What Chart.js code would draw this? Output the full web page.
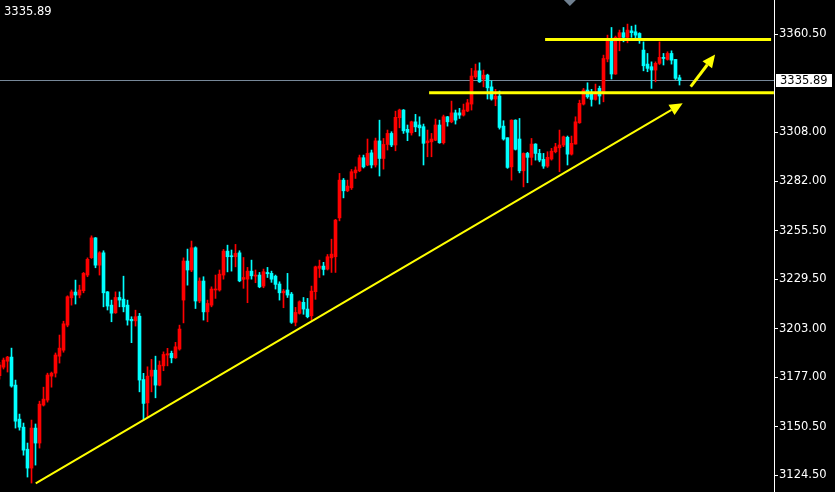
<!DOCTYPE html>
<html>
<head>
<meta charset="utf-8">
<script src="https://cdn.jsdelivr.net/npm/chart.js@4.4.1/dist/chart.umd.min.js"></script>
<style>
  html, body { margin: 0; padding: 0; background: #000; }
  #wrap { position: relative; width: 835px; height: 492px; }
</style>
</head>
<body>
<div id="wrap"><canvas id="chart"></canvas></div>
<script>
// ── Candle data (one entry per bar, oldest first; first bar is cut by the left edge) ──
const opens = [3177.8,
  3182.4, 3185.6, 3187.8, 3172.8, 3154.6, 3150.3, 3138.5, 3128.4, 3149.8, 3141.8,
  3162.1, 3164.8, 3177.6, 3179.2, 3188.3, 3191.5, 3204.9, 3219.5, 3222.6, 3221.0,
  3223.3, 3231.7, 3241.0, 3251.6, 3237.0, 3243.6, 3222.7, 3215.6, 3211.5, 3219.7,
  3218.8, 3215.6, 3208.0, 3207.2, 3209.7, 3175.8, 3163.3, 3177.6, 3180.8, 3172.8,
  3183.1, 3188.9, 3189.8, 3187.4, 3192.1, 3218.3, 3239.2, 3234.4, 3246.3, 3217.8,
  3228.5, 3212.0, 3215.6, 3223.7, 3223.7, 3231.7, 3244.5, 3242.0, 3241.5, 3243.6,
  3229.4, 3229.5, 3233.8, 3231.1, 3231.7, 3225.8, 3233.1, 3232.6, 3231.1, 3226.9,
  3222.2, 3223.7, 3221.5, 3206.4, 3211.2, 3217.1, 3213.5, 3209.9, 3222.8, 3235.3,
  3236.5, 3234.9, 3240.9, 3241.5, 3262.3, 3282.5, 3276.8, 3278.4, 3286.4, 3287.5,
  3294.5, 3290.6, 3297.1, 3290.6, 3303.5, 3294.1, 3301.6, 3307.5, 3301.3, 3315.9,
  3320.0, 3309.7, 3307.8, 3313.7, 3312.0, 3311.1, 3302.5, 3303.0, 3303.9, 3312.0,
  3302.5, 3316.4, 3313.7, 3318.5, 3318.5, 3317.3, 3319.5, 3323.2, 3337.8, 3341.0,
  3336.6, 3338.7, 3332.4, 3325.9, 3327.5, 3311.4, 3305.2, 3289.6, 3314.6, 3304.5,
  3287.5, 3296.8, 3294.7, 3301.8, 3296.8, 3293.6, 3290.0, 3293.8, 3297.7, 3299.8,
  3301.3, 3305.4, 3296.4, 3301.8, 3313.2, 3323.2, 3330.7, 3329.2, 3325.7, 3331.6,
  3328.9, 3347.3, 3357.1, 3339.3, 3358.9, 3361.4, 3358.9, 3362.4, 3361.9, 3361.0,
  3352.1, 3344.6, 3343.2, 3341.4, 3345.0, 3348.2, 3347.1, 3350.3, 3347.1, 3337.3
];
const highs = [3185.0,
  3187.3, 3188.2, 3192.6, 3175.5, 3157.3, 3152.5, 3141.8, 3154.1, 3152.0, 3164.2,
  3171.7, 3179.2, 3179.8, 3190.0, 3199.6, 3207.0, 3220.6, 3223.7, 3229.0, 3226.3,
  3233.1, 3240.9, 3252.7, 3251.8, 3244.2, 3244.7, 3222.9, 3218.3, 3222.7, 3222.7,
  3231.1, 3218.3, 3209.4, 3212.9, 3211.2, 3179.1, 3182.6, 3186.6, 3188.3, 3185.7,
  3190.6, 3192.5, 3191.0, 3195.7, 3204.9, 3240.9, 3245.6, 3249.9, 3246.8, 3230.2,
  3230.8, 3218.3, 3225.4, 3231.7, 3234.4, 3245.4, 3247.7, 3245.1, 3248.1, 3244.7,
  3241.1, 3235.8, 3239.7, 3234.4, 3233.1, 3234.9, 3235.8, 3233.8, 3231.7, 3228.1,
  3224.0, 3232.6, 3222.4, 3214.4, 3217.9, 3219.7, 3219.2, 3225.8, 3236.5, 3239.7,
  3238.5, 3242.7, 3250.9, 3261.5, 3286.1, 3283.4, 3282.5, 3288.2, 3289.6, 3295.9,
  3295.9, 3304.5, 3298.6, 3305.0, 3314.6, 3304.8, 3309.3, 3308.4, 3319.4, 3320.5,
  3320.3, 3312.0, 3314.1, 3317.7, 3316.4, 3312.5, 3309.3, 3307.5, 3315.2, 3314.6,
  3317.3, 3316.6, 3324.8, 3320.0, 3320.9, 3323.2, 3325.7, 3342.3, 3344.6, 3345.3,
  3341.4, 3339.2, 3335.7, 3331.1, 3330.2, 3314.3, 3305.2, 3314.8, 3314.8, 3315.5,
  3297.1, 3297.4, 3304.8, 3302.0, 3299.0, 3296.8, 3297.7, 3299.5, 3302.2, 3309.3,
  3306.1, 3306.1, 3306.1, 3316.4, 3325.3, 3331.6, 3334.6, 3331.1, 3333.9, 3332.8,
  3349.4, 3360.1, 3364.2, 3359.6, 3362.8, 3364.2, 3366.0, 3364.9, 3365.5, 3361.4,
  3356.5, 3350.3, 3345.8, 3345.8, 3356.5, 3350.3, 3351.2, 3351.7, 3347.1, 3338.7
];
const lows = [3176.0,
  3181.4, 3179.8, 3171.7, 3149.8, 3148.7, 3135.3, 3123.6, 3120.4, 3130.0, 3139.1,
  3161.6, 3163.7, 3171.7, 3177.1, 3184.6, 3190.4, 3204.0, 3215.6, 3216.2, 3219.5,
  3222.2, 3230.8, 3240.6, 3235.6, 3231.7, 3214.7, 3213.0, 3206.7, 3211.2, 3214.7,
  3212.0, 3204.9, 3195.5, 3204.4, 3169.2, 3154.1, 3155.8, 3169.2, 3166.0, 3172.4,
  3180.5, 3183.1, 3184.7, 3187.1, 3191.5, 3206.1, 3226.3, 3233.5, 3213.8, 3216.9,
  3207.6, 3206.7, 3214.7, 3219.2, 3223.1, 3229.5, 3233.4, 3233.8, 3236.1, 3228.1,
  3224.6, 3216.9, 3229.5, 3227.6, 3224.9, 3224.9, 3230.4, 3227.8, 3224.2, 3218.3,
  3214.2, 3219.7, 3205.8, 3204.5, 3210.8, 3210.7, 3208.8, 3207.6, 3218.7, 3230.4,
  3231.7, 3234.4, 3233.1, 3233.1, 3260.7, 3273.0, 3276.3, 3277.5, 3283.4, 3287.0,
  3289.0, 3290.2, 3289.0, 3289.5, 3284.7, 3288.4, 3298.6, 3300.4, 3298.2, 3310.5,
  3307.5, 3303.6, 3306.6, 3308.4, 3306.1, 3290.6, 3295.0, 3295.0, 3303.6, 3302.2,
  3301.8, 3311.4, 3313.2, 3312.5, 3315.5, 3316.8, 3319.1, 3320.0, 3337.0, 3334.8,
  3332.4, 3325.9, 3325.3, 3322.3, 3309.8, 3303.9, 3288.8, 3282.5, 3298.6, 3286.4,
  3278.9, 3281.1, 3290.6, 3293.2, 3292.3, 3288.8, 3289.3, 3293.2, 3297.1, 3287.0,
  3300.4, 3290.6, 3295.9, 3301.8, 3312.9, 3322.7, 3326.3, 3322.1, 3325.3, 3323.2,
  3324.4, 3345.8, 3336.6, 3339.1, 3351.7, 3356.5, 3356.0, 3358.9, 3357.8, 3355.7,
  3341.0, 3340.5, 3331.6, 3335.1, 3344.4, 3344.1, 3346.7, 3344.6, 3336.4, 3333.4
];
const closes = [3183.5,
  3186.2, 3187.8, 3172.3, 3153.5, 3150.3, 3138.0, 3128.4, 3149.8, 3141.8, 3162.6,
  3165.3, 3178.2, 3179.2, 3188.9, 3192.6, 3205.6, 3220.1, 3222.7, 3221.0, 3223.7,
  3232.6, 3240.1, 3251.6, 3237.0, 3243.6, 3222.2, 3215.1, 3211.3, 3219.7, 3218.3,
  3214.7, 3207.6, 3207.2, 3209.4, 3175.5, 3163.0, 3177.6, 3180.8, 3172.8, 3183.5,
  3189.2, 3189.6, 3187.4, 3193.3, 3202.8, 3239.2, 3234.4, 3246.3, 3217.8, 3228.5,
  3212.0, 3216.5, 3224.2, 3224.2, 3232.2, 3244.5, 3241.5, 3241.5, 3243.3, 3228.6,
  3230.4, 3233.8, 3231.3, 3231.7, 3225.4, 3233.5, 3232.4, 3229.5, 3226.7, 3222.2,
  3223.1, 3221.0, 3206.4, 3211.7, 3217.4, 3213.5, 3209.4, 3223.1, 3236.1, 3236.5,
  3234.7, 3241.5, 3242.9, 3261.1, 3282.5, 3276.8, 3279.3, 3287.0, 3287.9, 3294.5,
  3289.6, 3296.8, 3290.6, 3303.5, 3294.1, 3301.6, 3307.5, 3301.3, 3316.1, 3320.0,
  3308.9, 3308.1, 3313.7, 3311.0, 3310.5, 3302.2, 3303.5, 3304.5, 3312.0, 3302.5,
  3316.4, 3313.7, 3318.5, 3314.6, 3317.3, 3320.0, 3323.9, 3338.2, 3341.0, 3335.1,
  3338.7, 3331.9, 3325.9, 3327.5, 3310.7, 3304.5, 3289.3, 3314.6, 3299.0, 3287.5,
  3296.8, 3294.7, 3301.8, 3296.8, 3293.2, 3290.0, 3294.7, 3298.0, 3300.3, 3301.3,
  3305.7, 3296.4, 3302.2, 3313.7, 3323.6, 3330.7, 3327.1, 3325.7, 3328.6, 3327.5,
  3347.6, 3357.1, 3339.3, 3358.9, 3361.4, 3358.9, 3362.8, 3361.4, 3360.1, 3358.4,
  3343.7, 3342.3, 3341.4, 3345.0, 3348.2, 3347.6, 3350.3, 3346.7, 3337.0, 3335.89
];

// price axis labels (the one under the bid box is not shown)
const yTicks = [3124.5, 3150.5, 3177.0, 3203.0, 3229.5, 3255.5, 3282.0, 3308.0, 3360.5];
const lastPrice = 3335.89;

// hand drawn lines: [barIndex, price] pairs
const trendLine = [[9.05, 3120.2], [170.8, 3323.6]];
const smallArrow = [[172.8, 3332.5], [178.9, 3349.8]];
const upperLevel = [[136.4, 3357.7], [192.9, 3357.7]];
const lowerLevel = [[107.4, 3329.3], [193.6, 3329.3]];
const shiftMark = 142.6;

const UP = '#ff0000', DOWN = '#00ffff', YELLOW = '#ffff00';
const colors = closes.map((c, i) => c >= opens[i] ? UP : DOWN);

function arrow(ctx, x1, y1, x2, y2, head, half) {
  const ang = Math.atan2(y2 - y1, x2 - x1);
  const bx = x2 - head * Math.cos(ang), by = y2 - head * Math.sin(ang);
  ctx.beginPath(); ctx.moveTo(x1, y1); ctx.lineTo(bx, by); ctx.stroke();
  ctx.beginPath();
  ctx.moveTo(x2, y2);
  ctx.lineTo(bx + half * Math.sin(ang), by - half * Math.cos(ang));
  ctx.lineTo(bx - half * Math.sin(ang), by + half * Math.cos(ang));
  ctx.closePath(); ctx.fill();
}

const overlay = {
  id: 'overlay',
  beforeDatasetsDraw(chart) {
    const { ctx, chartArea: a, scales: { y } } = chart;
    const py = Math.round(y.getPixelForValue(lastPrice)) + 0.5;
    ctx.save();
    ctx.strokeStyle = '#778899';
    ctx.lineWidth = 1;
    ctx.beginPath(); ctx.moveTo(a.left, py); ctx.lineTo(a.right, py); ctx.stroke();
    ctx.restore();
  },
  afterDraw(chart) {
    const { ctx, chartArea: a, scales: { x, y } } = chart;
    const P = pt => [x.getPixelForValue(pt[0]), y.getPixelForValue(pt[1])];
    ctx.save();
    ctx.strokeStyle = YELLOW;
    ctx.fillStyle = YELLOW;

    // support / resistance levels
    ctx.lineWidth = 3;
    [upperLevel, lowerLevel].forEach(l => {
      const [x1, y1] = P(l[0]), [x2, y2] = P(l[1]);
      ctx.beginPath(); ctx.moveTo(x1, y1); ctx.lineTo(x2, y2); ctx.stroke();
    });

    // trend line + arrows
    ctx.lineWidth = 2;
    let [x1, y1] = P(trendLine[0]), [x2, y2] = P(trendLine[1]);
    arrow(ctx, x1, y1, x2, y2, 13, 6);
    [x1, y1] = P(smallArrow[0]); [x2, y2] = P(smallArrow[1]);
    ctx.lineWidth = 3;
    arrow(ctx, x1, y1, x2, y2, 13, 6);

    // chart shift marker
    const sx = x.getPixelForValue(shiftMark);
    ctx.fillStyle = '#708090';
    ctx.beginPath(); ctx.moveTo(sx - 6, a.top); ctx.lineTo(sx + 6, a.top); ctx.lineTo(sx, a.top + 6); ctx.closePath(); ctx.fill();

    // bid price box on the axis
    const py = Math.round(y.getPixelForValue(lastPrice));
    ctx.fillStyle = '#ffffff';
    ctx.fillRect(a.right + 2, py - 6, 56, 13);
    ctx.fillStyle = '#000000';
    ctx.font = '11.5px "DejaVu Sans"';
    ctx.textBaseline = 'middle';
    ctx.fillText(lastPrice.toFixed(2), a.right + 6, py + 1);

    // top-left price
    ctx.fillStyle = '#ffffff';
    ctx.fillText(lastPrice.toFixed(2), 4, 12);
    ctx.restore();
  }
};

const idx = closes.map((c, i) => i);

new Chart(document.getElementById('chart'), {
  type: 'bar',
  data: {
    datasets: [
      {
        label: 'body',
        data: idx.map(i => ({ x: i, y: [opens[i], closes[i]] })),
        backgroundColor: colors,
        barThickness: 3, minBarLength: 1, grouped: false, order: 1
      },
      {
        label: 'wick',
        data: idx.map(i => ({ x: i, y: [lows[i], highs[i]] })),
        backgroundColor: colors,
        barThickness: 1, grouped: false, order: 2
      }
    ]
  },
  options: {
    responsive: true, maintainAspectRatio: false, animation: false,
    layout: { padding: 0 },
    plugins: { legend: { display: false }, tooltip: { enabled: false } },
    scales: {
      x: { type: 'linear', display: false, offset: false, min: 0.125, max: 193.625 },
      y: {
        position: 'right', min: 3115.6, max: 3378.9,
        afterBuildTicks: s => { s.ticks = yTicks.map(v => ({ value: v })); },
        afterFit: s => { s.width = 61; s.paddingTop = 0; s.paddingBottom = 0; },
        grid: { drawOnChartArea: false, drawTicks: true, tickLength: 4, color: '#ffffff' },
        border: { display: true, color: '#ffffff', width: 1 },
        ticks: {
          color: '#ffffff', padding: 1, autoSkip: false,
          font: { family: 'DejaVu Sans', size: 11.5 },
          callback: v => Number(v).toFixed(2)
        }
      }
    }
  },
  plugins: [overlay]
});
</script>
</body>
</html>
